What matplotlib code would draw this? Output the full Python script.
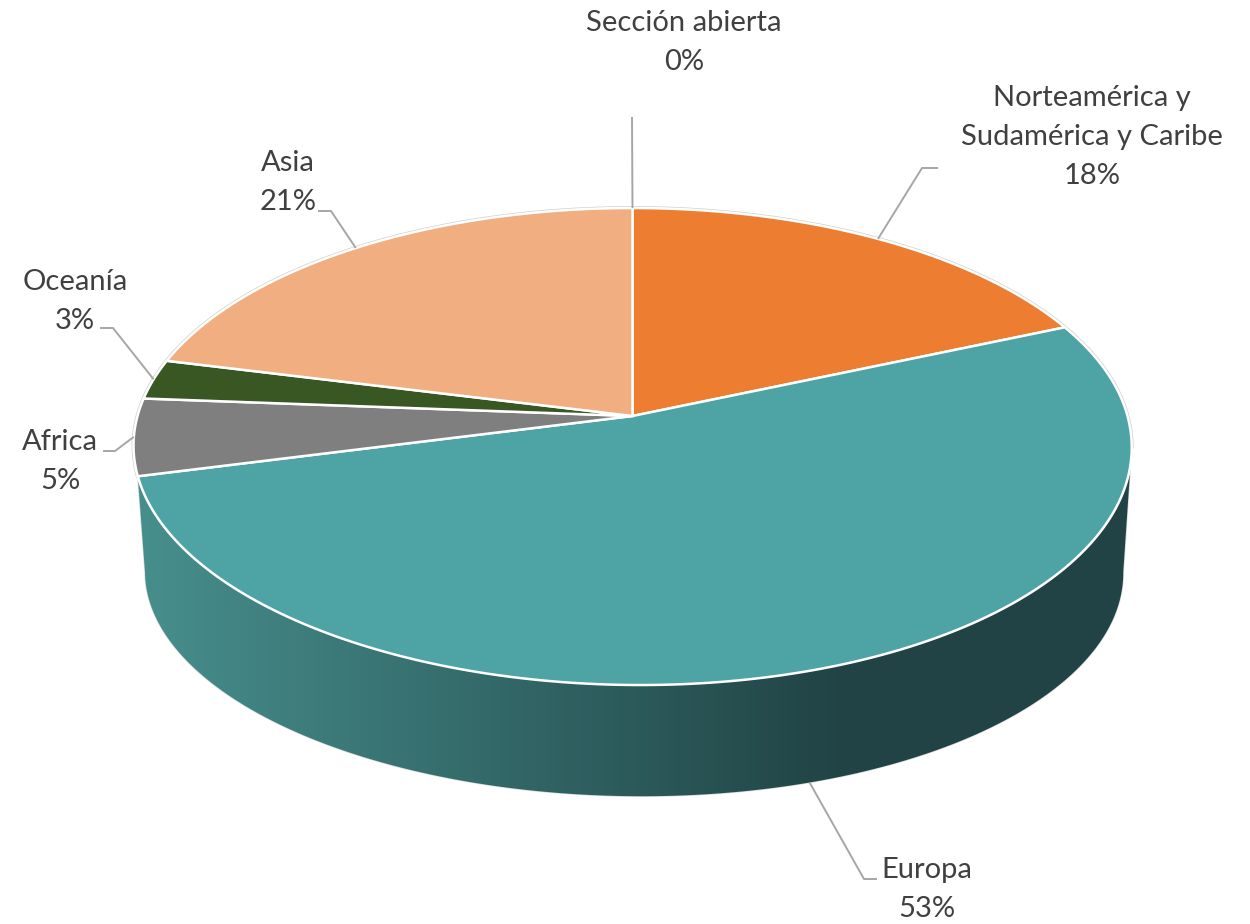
import numpy as np
import matplotlib
matplotlib.use('Agg')
import matplotlib.pyplot as plt
from matplotlib.colors import LinearSegmentedColormap
from matplotlib.patches import Polygon

# Datos del grafico (sentido horario desde arriba)
categorias = ['Sección abierta', 'Norteamérica y\nSudamérica y Caribe', 'Europa', 'Africa', 'Oceanía', 'Asia']
valores = [0.0, 18.5, 52.5, 5.2, 2.7, 21.1]
etiquetas_pct = ['0%', '18%', '53%', '5%', '3%', '21%']
colores = ['#a5a5a5', '#ed7d31', '#4ea4a4', '#7f7f7f', '#385723', '#f1ae81']

# Posicion de cada etiqueta y codo de su linea guia (en pixeles)
pos_etiqueta = [(684, 42.5), (1092, 137), (927, 889.5), (60, 461.5), (75, 301.5), (288, 182.5)]
codos = [[(632, 117)],
         [(938, 168), (922, 168)],
         [(877, 879), (864, 879)],
         [(103, 451), (115, 451)],
         [(100, 328), (113, 328)],
         [(318, 211), (331, 211)]]

# Proyeccion en perspectiva del disco
CX, CY = 632.5, 416
A, B, K = 495, 234.6, 0.128
DY_CENTRO = 446.5
CX_BASE, CY_BASE = 634, 572
SX_BASE, SY_BASE = 0.98, 0.94
SESGO = 8


def tapa(theta):
    u, v = np.sin(theta), -np.cos(theta)
    d = 1 - K * v
    return CX + A * u / d + SESGO * np.clip(v, 0, 1) ** 2, CY + B * v / d


def base(theta):
    x, y = tapa(theta)
    return CX_BASE + (x - CX) * SX_BASE, CY_BASE + (y - DY_CENTRO) * SY_BASE


fig = plt.figure(figsize=(12.5, 9.24), dpi=100)
ax = fig.add_axes([0, 0, 1, 1])
ax.set_xlim(0, 1250)
ax.set_ylim(924, 0)
ax.axis('off')

acum = np.cumsum([0] + valores) / sum(valores) * 2 * np.pi
ini = dict(zip(categorias, acum[:-1]))
fin = dict(zip(categorias, acum[1:]))

# Pared lateral con degradado
izq = np.arccos(-K)
der = 2 * np.pi - izq
t_sup = np.linspace(izq, fin['Europa'], 300)
t_inf = np.linspace(der, izq, 300)
xs, ys = tapa(t_sup)
xi, yi = base(t_inf)
contorno = np.column_stack([np.r_[xs, xi], np.r_[ys, yi]])
pared = Polygon(contorno, closed=True, facecolor='none', edgecolor='#d9d9d9', lw=1.0, zorder=1)
ax.add_patch(pared)
cmap = LinearSegmentedColormap.from_list('pared', ['#468e8c', '#214345'])
grad = np.clip((np.linspace(0, 1250, 1250) - 145) / (845 - 145), 0, 1).reshape(1, -1)
img = ax.imshow(grad, extent=(0, 1250, 924, 0), cmap=cmap, vmin=0, vmax=1, aspect='auto', zorder=1)
img.set_clip_path(pared)

# Borde gris fino de la tapa donde no hay pared
t_borde = np.linspace(fin['Europa'], izq + 2 * np.pi, 400)
xb, yb = tapa(t_borde)
ax.plot(xb, yb, color='#cfcfcf', lw=2.8, zorder=1.5)

# Tapa superior
for cat, col in zip(categorias, colores):
    if fin[cat] - ini[cat] <= 0:
        continue
    t = np.linspace(ini[cat], fin[cat], 200)
    x, y = tapa(t)
    puntos = np.column_stack([np.r_[CX, x], np.r_[CY, y]])
    ax.add_patch(Polygon(puntos, closed=True, facecolor=col, edgecolor='white', lw=1.8, zorder=2))

# Lineas guia
for cat, codo, v0, v1 in zip(categorias, codos, acum[:-1], acum[1:]):
    medio = (v0 + v1) / 2
    # la guia de Europa sale del borde inferior, un poco pasado el punto medio
    ancla = base(medio + 0.02) if cat == 'Europa' else tapa(medio)
    px = [p[0] for p in codo] + [ancla[0]]
    py = [p[1] for p in codo] + [ancla[1]]
    ax.plot(px, py, color='#a6a6a6', lw=1.4, zorder=3, solid_capstyle='butt')

# Etiquetas
for cat, pct, pos in zip(categorias, etiquetas_pct, pos_etiqueta):
    ax.text(pos[0], pos[1], cat + '\n' + pct, family='Lato', fontsize=21, color='#404040',
            ha='center', va='center', linespacing=1.63, zorder=4)

fig.savefig('out.png', dpi=100, facecolor='white')
